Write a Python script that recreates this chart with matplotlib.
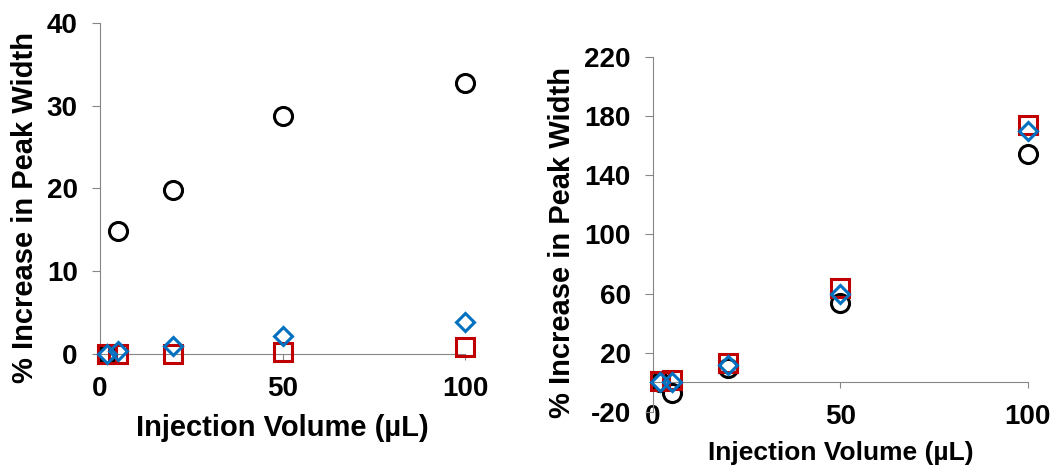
import numpy as np
import matplotlib.pyplot as plt

plt.rcParams['font.family'] = ['Liberation Sans', 'DejaVu Sans']
plt.rcParams['font.weight'] = 'bold'
plt.rcParams['axes.unicode_minus'] = False

# injection volumes (uL)
vol = [2, 5, 20, 50, 100]

# left panel
left_circle = [0.0, 14.8, 19.8, 28.8, 32.7]
left_square = [0.0, 0.0, 0.0, 0.2, 0.8]
left_diamond = [0.0, 0.4, 1.0, 2.2, 3.9]

# right panel
right_circle = [0.0, -7.5, 9.5, 53.5, 154.0]
right_square = [1.0, 1.5, 12.8, 64.0, 174.0]
right_diamond = [0.0, 0.0, 11.7, 60.0, 170.0]

left_yticks = [0, 10, 20, 30, 40]
right_yticks = [-20, 20, 60, 100, 140, 180, 220]
xticks = [0, 50, 100]

GRAY = '#868686'
RED = '#C00000'
BLUE = '#0070C0'

fig = plt.figure(figsize=(10.52, 4.67), dpi=100)
ax1 = fig.add_axes([0.0951, 0.242, 0.347, 0.709])
ax2 = fig.add_axes([0.6207, 0.1178, 0.3562, 0.7608])


def draw(ax, c, s, d, ylim, yticks, xlab_y, ylab_x, ylab_y, xlab_size):
    ax.plot(vol, c, 'o', ms=13, mfc='none', mec='black', mew=2.2, clip_on=False, zorder=3)
    ax.plot(vol, s, 's', ms=12.5, mfc='none', mec=RED, mew=2.2, clip_on=False, zorder=4)
    ax.plot(vol, d, 'D', ms=9.5, mfc='none', mec=BLUE, mew=2.2, clip_on=False, zorder=5)
    ax.set_xlim(0, 100)
    ax.set_ylim(*ylim)
    ax.set_xticks(xticks)
    ax.set_yticks(yticks)
    for side in ['top', 'right']:
        ax.spines[side].set_visible(False)
    ax.spines['left'].set_color(GRAY)
    ax.spines['bottom'].set_color(GRAY)
    ax.spines['bottom'].set_position(('data', 0))
    ax.tick_params(axis='y', length=6, color=GRAY, labelsize=20, pad=10)
    ax.tick_params(axis='x', length=4.5, color=GRAY, labelsize=20, pad=11)
    ax.set_xlabel('Injection Volume (µL)', fontsize=xlab_size, fontweight='bold')
    ax.set_ylabel('% Increase in Peak Width', fontsize=21, fontweight='bold')
    ax.xaxis.set_label_coords(0.5, xlab_y)
    ax.yaxis.set_label_coords(ylab_x, ylab_y)


draw(ax1, left_circle, left_square, left_diamond, (0, 40), left_yticks,
     -0.18, -0.168, 0.441, 21)
draw(ax2, right_circle, right_square, right_diamond, (-20, 220), right_yticks,
     -0.083, -0.205, 0.477, 19)

fig.savefig('out.png', dpi=100)
